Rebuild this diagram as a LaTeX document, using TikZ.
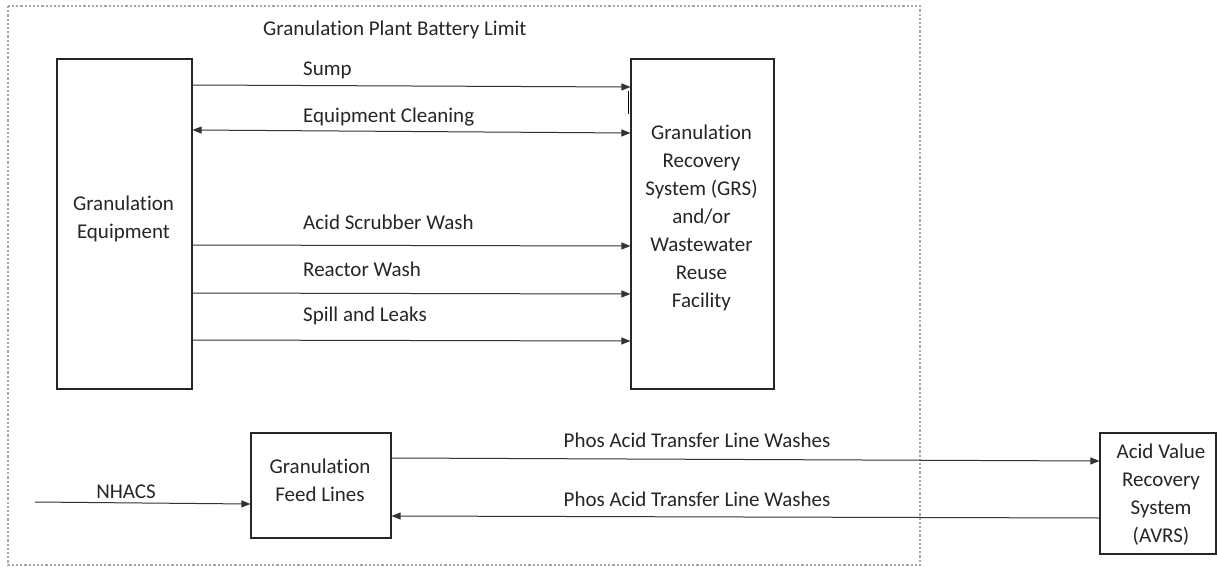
\documentclass[tikz,border=0pt]{standalone}
\usepackage{fontspec}
\setmainfont{Carlito}[Ligatures=NoCommon]
\usetikzlibrary{arrows.meta}
\definecolor{txt}{HTML}{262626}
\definecolor{lim}{HTML}{A6A6A6}
\tikzset{
  box/.style={draw=black!85, line width=1.1pt, inner sep=0pt},
  lbl/.style={font=\fontsize{21}{28}\selectfont, text=txt, inner sep=0pt, align=center},
  flow/.style={draw=black!80, line width=1pt, -{Triangle[length=9pt,width=7pt]}},
  bflow/.style={draw=black!80, line width=1pt, {Triangle[length=9pt,width=7pt]}-{Triangle[length=9pt,width=7pt]}},
  limit/.style={draw=lim, line width=2.2pt, dash pattern=on 2.2pt off 2pt}
}
\begin{document}
\begin{tikzpicture}[x=1pt,y=-1pt]
\useasboundingbox (0,0) rectangle (1217,567);
\fill[white] (0,0) rectangle (1217,567);
% battery limit
\draw[limit] (8,6) rectangle (920,565);
\node[lbl, anchor=west] (title) at (263,30) {Granulation Plant Battery Limit};
% boxes
\node[box, minimum width=135pt, minimum height=330pt] (ge) at (124.5,224) {};
\node[lbl] (getxt) at (123.5,219) {Granulation\\Equipment};
\node[box, minimum width=143pt, minimum height=330pt] (grs) at (702.5,224) {};
\node[lbl] (grstxt) at (701.5,218) {Granulation\\Recovery\\System (GRS)\\and/or\\Wastewater\\Reuse\\Facility};
\node[box, minimum width=140pt, minimum height=105pt] (fl) at (321,485.5) {};
\node[lbl] (fltxt) at (320,480) {Granulation\\Feed Lines};
\node[box, minimum width=116pt, minimum height=121pt] (avrs) at (1158,493.5) {};
\node[lbl] (avrstxt) at (1161,495) {Acid Value\\Recovery\\System\\(AVRS)};
% flows
\draw[flow] (ge.east |- 0,85) -- (grs.west |- 0,87);
\node[lbl, anchor=west] (l1) at (303,70) {Sump};
\draw[draw=black, line width=1pt] (628,91) -- (628,114);
\draw[bflow] (ge.east |- 0,130) -- (grs.west |- 0,133);
\node[lbl, anchor=west] (l2) at (303,117) {Equipment Cleaning};
\draw[flow] (ge.east |- 0,245) -- (grs.west |- 0,246);
\node[lbl, anchor=west] (l3) at (303,222) {Acid Scrubber Wash};
\draw[flow] (ge.east |- 0,293) -- (grs.west |- 0,294);
\node[lbl, anchor=west] (l4) at (303,269) {Reactor Wash};
\draw[flow] (ge.east |- 0,340) -- (grs.west |- 0,341);
\node[lbl, anchor=west] (l5) at (303,316) {Spill and Leaks};
% feed lines
\coordinate (src) at (35,502);
\draw[flow] (src) -- (fl.west |- 0,504);
\node[lbl] (l6) at (126,492) {NHACS};
\draw[flow] (fl.east |- 0,458) -- (avrs.west |- 0,461);
\node[lbl] (l7) at (697,440) {Phos Acid Transfer Line Washes};
\draw[flow] (avrs.west |- 0,518) -- (fl.east |- 0,516);
\node[lbl] (l8) at (697,499) {Phos Acid Transfer Line Washes};
\end{tikzpicture}
\end{document}
